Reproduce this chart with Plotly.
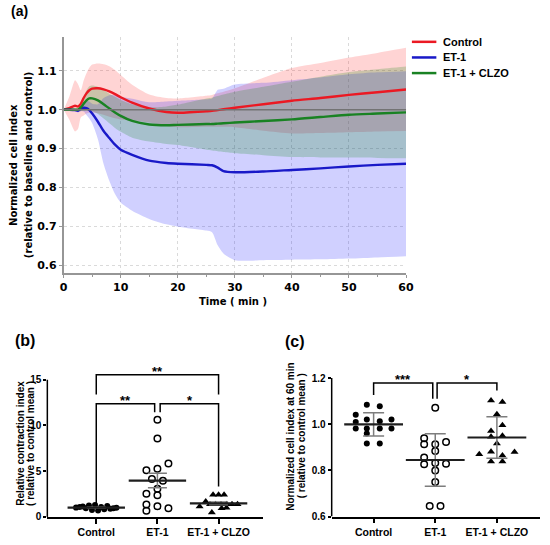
import numpy as np
import plotly.graph_objects as go

# ----------------------------------
# Data
# ----------------------------------
groups = ['Control', 'ET-1', 'ET-1 + CLZO']

# (a) normalized cell index vs time, mean and SD per group
time_min = [0, 1, 2, 2.5, 3, 3.5, 4, 4.5, 5, 6, 7, 8, 9, 10, 12, 15, 18, 20,
            25, 26, 27, 28, 30, 35, 40, 45, 50, 55, 60]
control_mean = [1.000, 1.004, 1.010, 1.008, 1.015, 1.030, 1.042, 1.050, 1.054, 1.055,
                1.052, 1.047, 1.040, 1.032, 1.018, 1.003, 0.994, 0.992, 0.996, 0.997,
                0.999, 1.001, 1.005, 1.014, 1.023, 1.030, 1.038, 1.045, 1.052]
control_sd = [0.000, 0.030, 0.066, 0.058, 0.035, 0.045, 0.052, 0.058, 0.062, 0.064,
              0.065, 0.065, 0.062, 0.057, 0.046, 0.036, 0.036, 0.037, 0.040, 0.041,
              0.043, 0.045, 0.050, 0.068, 0.084, 0.090, 0.096, 0.101, 0.107]
et1_mean = [1.000, 1.000, 0.999, 0.997, 1.002, 1.005, 1.004, 0.999, 0.990, 0.969,
            0.945, 0.927, 0.910, 0.897, 0.884, 0.869, 0.863, 0.861, 0.858, 0.857,
            0.851, 0.842, 0.839, 0.841, 0.845, 0.849, 0.854, 0.858, 0.861]
et1_sd = [0.000, 0.002, 0.003, 0.004, 0.006, 0.010, 0.018, 0.022, 0.025, 0.045,
          0.085, 0.110, 0.127, 0.136, 0.144, 0.150, 0.158, 0.162, 0.169, 0.172,
          0.200, 0.212, 0.226, 0.228, 0.231, 0.234, 0.237, 0.238, 0.238]
clzo_mean = [1.000, 1.000, 1.000, 1.000, 1.006, 1.015, 1.024, 1.029, 1.029, 1.024,
             1.014, 1.003, 0.993, 0.984, 0.971, 0.962, 0.960, 0.961, 0.963, 0.963,
             0.964, 0.965, 0.967, 0.971, 0.975, 0.981, 0.987, 0.990, 0.993]
clzo_sd = [0.000, 0.002, 0.003, 0.004, 0.010, 0.018, 0.026, 0.031, 0.033, 0.035,
           0.037, 0.038, 0.040, 0.041, 0.043, 0.044, 0.048, 0.052, 0.066, 0.068,
           0.071, 0.074, 0.079, 0.088, 0.097, 0.104, 0.110, 0.114, 0.118]

# (b) relative contraction index per well
contraction_control = [1.02, 1.08, 1.15, 0.95, 1.25, 0.75, 1.30, 0.70, 1.10, 0.85, 1.20, 0.90, 0.95, 1.00]
contraction_et1 = [10.64, 8.58, 5.84, 5.12, 5.27, 4.15, 3.97, 3.07, 2.53, 2.38, 1.37, 1.16, 0.94, 0.69]
contraction_clzo = [2.42, 2.42, 2.42, 1.70, 1.15, 1.38, 1.38, 1.38, 1.38, 1.38, 1.38, 0.50, 0.95, 1.00]
# scatter offsets of the dots around each group (as seen in the figure)
contraction_control_dx = [-0.33, -0.27, -0.22, -0.17, -0.12, -0.07, -0.02, 0.03, 0.08, 0.13, 0.18, 0.23, 0.28, 0.33]
contraction_et1_dx = [0, 0, 0.18, -0.18, 0, -0.09, 0.09, 0, -0.18, 0, -0.18, 0, 0.18, -0.18]
contraction_clzo_dx = [-0.09, 0.0, 0.09, -0.21, -0.31, -0.14, -0.05, 0.04, 0.13, 0.22, 0.31, -0.11, 0.05, 0.13]

# (c) normalized cell index at 60 min per well
index60_control = [1.084, 1.078, 1.041, 1.021, 1.013, 1.021, 1.010, 0.981, 0.981, 0.981, 0.981, 0.960, 0.917, 0.917]
index60_et1 = [1.071, 0.939, 0.913, 0.913, 0.923, 0.884, 0.856, 0.827, 0.832, 0.829, 0.800, 0.750, 0.646, 0.646]
index60_clzo = [1.103, 1.096, 1.043, 0.996, 0.971, 0.950, 0.946, 0.917, 0.870, 0.881, 0.880, 0.864, 0.839, 0.839]
index60_control_dx = [-0.11, 0.10, -0.29, -0.11, 0.10, 0.29, -0.29, -0.29, -0.11, 0.10, 0.29, -0.11, -0.11, 0.10]
index60_et1_dx = [0, -0.18, -0.18, 0, 0.175, 0, -0.18, -0.18, 0, 0.175, 0, 0, -0.09, 0.085]
index60_clzo_dx = [-0.095, 0.09, 0, 0.09, -0.095, 0.09, -0.095, 0, -0.286, -0.095, 0.286, 0.09, -0.095, 0.09]

# significance labels
sig_b = ['**', '**', '*']   # control vs clzo, control vs et1, et1 vs clzo
sig_c = ['***', '*']        # control vs et1, et1 vs clzo

# ----------------------------------
# Helpers
# ----------------------------------
W, H = 550, 545


def px(x):
    return x / W


def py(y):
    return 1 - y / H


MPL = 'DejaVu Sans'
ARIAL = 'Liberation Sans'

fig = go.Figure()

# ----------------------------------
# (a) time course
# ----------------------------------
series_a = [
    ('Control', control_mean, control_sd, 'rgb(235,25,35)', 'rgba(255,40,40,0.2)'),
    ('ET-1', et1_mean, et1_sd, 'rgb(25,25,200)', 'rgba(20,20,255,0.2)'),
    ('ET-1 + CLZO', clzo_mean, clzo_sd, 'rgb(25,130,35)', 'rgba(0,128,0,0.2)'),
]
for name, mean, sd, line_col, fill_col in series_a:
    m = np.array(mean)
    s = np.array(sd)
    fig.add_trace(go.Scatter(x=time_min, y=m + s, mode='lines',
                             line=dict(width=0, shape='spline', smoothing=0.7),
                             hoverinfo='skip', showlegend=False, xaxis='x', yaxis='y'))
    fig.add_trace(go.Scatter(x=time_min, y=m - s, mode='lines', fill='tonexty',
                             fillcolor=fill_col,
                             line=dict(width=0, shape='spline', smoothing=0.7),
                             hoverinfo='skip', showlegend=False, xaxis='x', yaxis='y'))

for name, mean, sd, line_col, fill_col in series_a:
    fig.add_trace(go.Scatter(x=time_min, y=mean, mode='lines', name=name,
                             line=dict(color=line_col, width=2.4, shape='spline', smoothing=0.7),
                             showlegend=False, xaxis='x', yaxis='y'))

# baseline at 1.0
fig.add_shape(type='line', xref='x domain', yref='y', x0=0, x1=1, y0=1.0, y1=1.0,
              line=dict(color='rgb(115,115,115)', width=1.5), layer='above')

# hand-placed legend
for i, (name, mean, sd, line_col, fill_col) in enumerate(series_a):
    yy = 42.3 + 15.8 * i
    fig.add_shape(type='line', xref='paper', yref='paper', x0=px(417), x1=px(442),
                  y0=py(yy), y1=py(yy), line=dict(color=line_col, width=2.5))
    fig.add_annotation(xref='paper', yref='paper', x=px(447), y=py(yy), text=name,
                       showarrow=False, xanchor='left', yanchor='middle',
                       font=dict(family=ARIAL, size=11, color='black', weight='bold'))

# ----------------------------------
# (b) and (c) dot plots
# ----------------------------------
dot_styles = [
    dict(symbol='circle', size=6, color='black'),
    dict(symbol='circle-open', size=6.5, color='black', line=dict(width=1.5, color='black')),
    dict(symbol='triangle-up', size=7, color='black'),
]

panel_b = [(contraction_control, contraction_control_dx),
           (contraction_et1, contraction_et1_dx),
           (contraction_clzo, contraction_clzo_dx)]
panel_c = [(index60_control, index60_control_dx),
           (index60_et1, index60_et1_dx),
           (index60_clzo, index60_clzo_dx)]

for xa, ya, panel, err_kind, mean_len, cap in [('x2', 'y2', panel_b, 'sem', 41, 9.5),
                                                ('x3', 'y3', panel_c, 'sd', 42, 10.5)]:
    for i, (vals, dx) in enumerate(panel):
        v = np.array(vals)
        fig.add_trace(go.Scatter(x=i + np.array(dx), y=v, mode='markers',
                                 marker=dot_styles[i], showlegend=False,
                                 xaxis=xa, yaxis=ya))
    for i, (vals, dx) in enumerate(panel):
        v = np.array(vals)
        err = v.std(ddof=1)
        if err_kind == 'sem':
            err = err / np.sqrt(len(v))
        fig.add_trace(go.Scatter(x=[i], y=[v.mean()], mode='markers',
                                 marker=dict(symbol='line-ew', size=mean_len,
                                             line=dict(width=2.2, color='rgb(30,30,30)')),
                                 error_y=dict(type='data', array=[err], color='rgb(125,125,125)',
                                              thickness=1.5, width=cap),
                                 showlegend=False, xaxis=xa, yaxis=ya))


def bracket(xa, ya, x0, x1, top, left_end, right_end):
    fig.add_shape(type='path', xref=xa, yref=ya,
                  path=f'M {x0},{left_end} L {x0},{top} L {x1},{top} L {x1},{right_end}',
                  line=dict(color='black', width=1.5))


def stars(xa, ya, x, y, text):
    fig.add_annotation(xref=xa, yref=ya, x=x, y=y, text=text, showarrow=False,
                       xanchor='center', yanchor='bottom', yshift=-6,
                       font=dict(family=ARIAL, size=13, color='black', weight='bold'))


# (b) brackets
bracket('x2', 'y2', 0, 2, 15.54, 13.38, 13.38)
stars('x2', 'y2', 1, 15.54, sig_b[0])
bracket('x2', 'y2', 0, 0.955, 12.37, 1.2, 11.46)
stars('x2', 'y2', 0.48, 12.37, sig_b[1])
bracket('x2', 'y2', 1.045, 2, 12.37, 11.46, 3.32)
stars('x2', 'y2', 1.53, 12.37, sig_b[2])

# (c) brackets
bracket('x3', 'y3', 0, 0.96, 1.179, 1.127, 1.11)
stars('x3', 'y3', 0.48, 1.179, sig_c[0])
bracket('x3', 'y3', 1.03, 2, 1.179, 1.11, 1.146)
stars('x3', 'y3', 1.515, 1.179, sig_c[1])

# y axis lines that stop at the last tick (GraphPad style)
fig.add_shape(type='line', xref='x2 domain', yref='y2', x0=0, x1=0, y0=0, y1=15,
              line=dict(color='black', width=1.5))
fig.add_shape(type='line', xref='x3 domain', yref='y3', x0=0, x1=0, y0=0.6, y1=1.2,
              line=dict(color='black', width=1.5))

# ----------------------------------
# Text: panel labels and axis titles
# ----------------------------------
def label(x, y, text, family, size, angle=0):
    fig.add_annotation(xref='paper', yref='paper', x=px(x), y=py(y), text=text,
                       showarrow=False, xanchor='center', yanchor='middle', textangle=angle,
                       font=dict(family=family, size=size, color='black', weight='bold'))


label(16, 11, '(a)', ARIAL, 14)
label(21, 344, '(b)', ARIAL, 16)
label(298, 345, '(c)', ARIAL, 16)

label(9, 167, 'Normalized cell index', MPL, 10, -90)
label(24.5, 167, '(relative to baseline and control)', MPL, 10, -90)
label(234, 305, 'Time ( min )', MPL, 10)

label(16.5, 448.5, 'Relative contraction index', ARIAL, 10, -90)
label(27, 448.5, '( relative to control mean )', ARIAL, 10, -90)
label(293.5, 441.5, 'Normalized cell index at 60 min', ARIAL, 10, -90)
label(303.8, 441, '( relative to control mean )', ARIAL, 10, -90)

# ----------------------------------
# Axes
# ----------------------------------
gray_axis = 'rgb(150,150,150)'
fig.update_layout(
    width=W, height=H,
    margin=dict(l=0, r=0, t=0, b=0),
    paper_bgcolor='white', plot_bgcolor='white',
    showlegend=False,
    xaxis=dict(domain=[px(61), px(411)], range=[0, 60], anchor='y',
               tickvals=[0, 10, 20, 30, 40, 50, 60],
               ticks='outside', ticklen=3, tickcolor=gray_axis,
               showline=True, linecolor=gray_axis, linewidth=1.5,
               showgrid=True, gridcolor='rgb(218,218,218)', griddash='dot', gridwidth=1,
               zeroline=False,
               minor=dict(dtick=5, ticks='outside', ticklen=2, tickcolor=gray_axis, showgrid=False),
               tickfont=dict(family=MPL, size=11, color='black', weight='bold')),
    yaxis=dict(domain=[py(276), py(37)], range=[0.58, 1.188], anchor='x',
               tickvals=[0.6, 0.7, 0.8, 0.9, 1.0, 1.1], tickformat='.1f',
               ticks='outside', ticklen=3, tickcolor=gray_axis,
               showline=True, linecolor=gray_axis, linewidth=1.5,
               showgrid=True, gridcolor='rgb(218,218,218)', griddash='dot', gridwidth=1,
               zeroline=False,
               tickfont=dict(family=MPL, size=11, color='black', weight='bold')),
    xaxis2=dict(domain=[px(44.3), px(265)], range=[-0.8, 2.73], anchor='y2',
                tickvals=[0, 1, 2], ticktext=groups,
                ticks='outside', ticklen=5, tickwidth=1.5, tickcolor='black',
                showline=True, linecolor='black', linewidth=1.5,
                showgrid=False, zeroline=False,
                tickfont=dict(family=ARIAL, size=10.5, color='black', weight='bold')),
    yaxis2=dict(domain=[py(522.7), py(365.5)], range=[0, 17], anchor='x2',
                tickvals=[0, 5, 10, 15],
                ticks='outside', ticklen=3, tickwidth=1.5, tickcolor='black',
                showline=False, showgrid=False, zeroline=False,
                tickfont=dict(family=ARIAL, size=10, color='black', weight='bold')),
    xaxis3=dict(domain=[px(335), px(548)], range=[-0.68, 2.70], anchor='y3',
                tickvals=[0, 1, 2], ticktext=groups,
                ticks='outside', ticklen=5, tickwidth=1.5, tickcolor='black',
                showline=True, linecolor='black', linewidth=1.5,
                showgrid=False, zeroline=False,
                tickfont=dict(family=ARIAL, size=10.5, color='black', weight='bold')),
    yaxis3=dict(domain=[py(522.3), py(370.6)], range=[0.6, 1.25], anchor='x3',
                tickvals=[0.6, 0.8, 1.0, 1.2], tickformat='.1f',
                ticks='outside', ticklen=3, tickwidth=1.5, tickcolor='black',
                showline=False, showgrid=False, zeroline=False,
                tickfont=dict(family=ARIAL, size=10, color='black', weight='bold')),
)

# page margin off so the 550x545 figure fills the window exactly
fig.write_html("out.html", config={'displayModeBar': False},
               post_script="document.body.style.margin='0px';")
